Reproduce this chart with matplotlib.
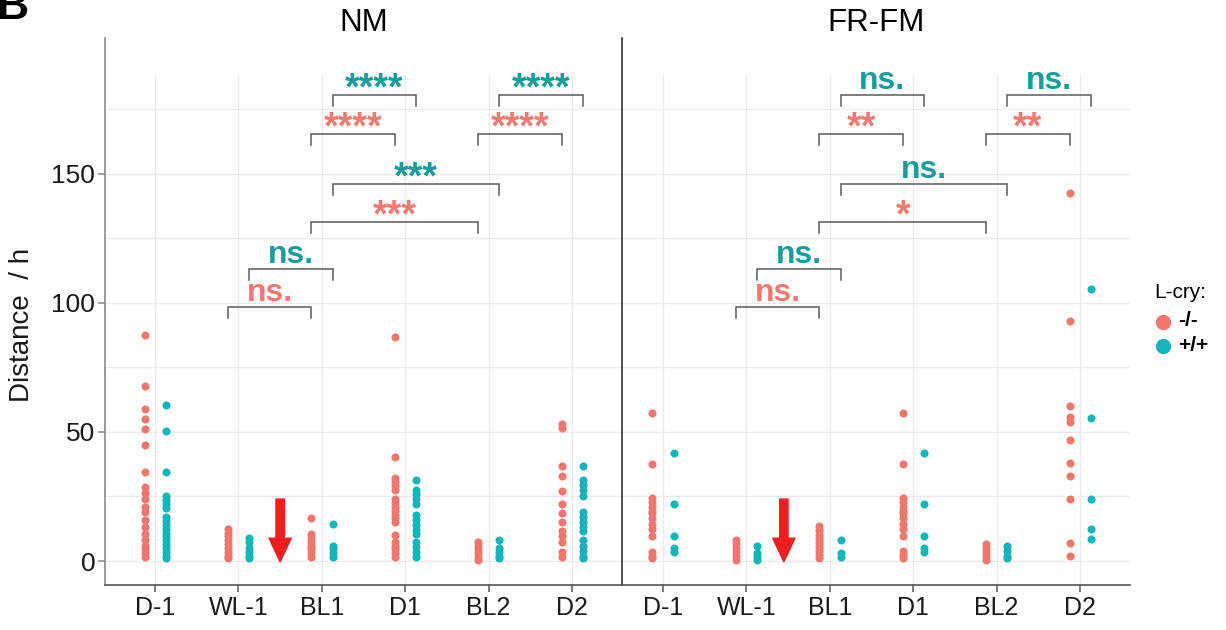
import matplotlib
matplotlib.use('Agg')
import matplotlib.pyplot as plt
from matplotlib.lines import Line2D

plt.rcParams['font.family'] = ['Liberation Sans', 'DejaVu Sans']

# ---------------- data ----------------
categories = ['D-1', 'WL-1', 'BL1', 'D1', 'BL2', 'D2']
panels = ['NM', 'FR-FM']
genotypes = ['-/-', '+/+']

# NM panel, L-cry -/-
nm_ko_d_1 = [87.5, 68, 59, 55, 51, 45, 34.5, 28.5, 26.5, 24, 21, 19, 16, 13, 10.5, 8, 6, 4.5, 3, 1.5]
nm_ko_wl_1 = [12.5, 11, 9.5, 8, 6.5, 5, 3.5, 2, 1]
nm_ko_bl1 = [16.5, 10.5, 9, 7.5, 6, 4.5, 3, 1.5]
nm_ko_d1 = [87, 40.5, 32, 30.5, 29, 27.5, 24, 22.5, 21, 19.5, 18, 16.5, 15, 10, 7.5, 6, 4.5, 3, 1.5]
nm_ko_bl2 = [7.5, 6, 4.5, 3, 1.5, 0.5]
nm_ko_d2 = [53, 51.5, 37, 33, 27, 22, 18.5, 15, 11.5, 9.5, 7.5, 3.5, 1.5]
# NM panel, L-cry +/+
nm_wt_d_1 = [60.5, 50.5, 34.5, 25, 23.5, 22, 20.5, 17, 15.5, 14, 12.5, 11, 9.5, 8, 6.5, 5, 3.5, 2, 1]
nm_wt_wl_1 = [9, 7.5, 5, 3.5, 2, 1]
nm_wt_bl1 = [14.5, 6, 4.5, 3, 1.5]
nm_wt_d1 = [31.5, 27.5, 26, 24, 22, 18, 16, 14, 12, 10.5, 7.5, 5.5, 3.5, 1.5]
nm_wt_bl2 = [8, 5, 3.5, 2, 1]
nm_wt_d2 = [37, 31.5, 29.5, 27.5, 25, 19, 17, 15, 13, 11.5, 8, 6, 4, 2, 1]

# FR-FM panel, L-cry -/-
fr_ko_d_1 = [57.5, 37.5, 24.5, 23, 21, 19.5, 18.5, 16.5, 14.5, 12.5, 9.5, 3.5, 2, 1]
fr_ko_wl_1 = [8, 6.5, 5, 3.5, 2, 0.5]
fr_ko_bl1 = [13.5, 12, 10, 8.5, 7, 5.5, 4, 2.5, 1]
fr_ko_d1 = [57.5, 37.5, 24.5, 23, 21, 19.5, 18.5, 16.5, 14.5, 12.5, 9.5, 4, 2.5, 1]
fr_ko_bl2 = [6.5, 5, 3.5, 2, 0.5]
fr_ko_d2 = [142.5, 93, 60, 56, 54, 47, 38, 33, 24, 7, 2]
# FR-FM panel, L-cry +/+
fr_wt_d_1 = [42, 22, 9.5, 5, 3.5]
fr_wt_wl_1 = [6, 3, 1.5, 0.5]
fr_wt_bl1 = [8, 3, 1.5]
fr_wt_d1 = [42, 22, 9.5, 5, 3.5]
fr_wt_bl2 = [6, 4, 2, 1]
fr_wt_d2 = [105.5, 55.5, 24, 12.5, 8.5]

panel_data = {
    'NM': {'-/-': [nm_ko_d_1, nm_ko_wl_1, nm_ko_bl1, nm_ko_d1, nm_ko_bl2, nm_ko_d2],
           '+/+': [nm_wt_d_1, nm_wt_wl_1, nm_wt_bl1, nm_wt_d1, nm_wt_bl2, nm_wt_d2]},
    'FR-FM': {'-/-': [fr_ko_d_1, fr_ko_wl_1, fr_ko_bl1, fr_ko_d1, fr_ko_bl2, fr_ko_d2],
              '+/+': [fr_wt_d_1, fr_wt_wl_1, fr_wt_bl1, fr_wt_d1, fr_wt_bl2, fr_wt_d2]},
}

# comparisons: (group1, group2, genotype, bracket height, label)
nm_tests = [('WL-1', 'BL1', '-/-', 98.6, 'ns.'),
            ('WL-1', 'BL1', '+/+', 113.2, 'ns.'),
            ('BL1', 'BL2', '-/-', 131.5, '***'),
            ('BL1', 'BL2', '+/+', 146.1, '***'),
            ('BL1', 'D1', '-/-', 165.5, '****'),
            ('BL1', 'D1', '+/+', 180.6, '****'),
            ('BL2', 'D2', '-/-', 165.5, '****'),
            ('BL2', 'D2', '+/+', 180.6, '****')]
fr_tests = [('WL-1', 'BL1', '-/-', 98.6, 'ns.'),
            ('WL-1', 'BL1', '+/+', 113.2, 'ns.'),
            ('BL1', 'BL2', '-/-', 131.5, '*'),
            ('BL1', 'BL2', '+/+', 146.1, 'ns.'),
            ('BL1', 'D1', '-/-', 165.5, '**'),
            ('BL1', 'D1', '+/+', 180.6, 'ns.'),
            ('BL2', 'D2', '-/-', 165.5, '**'),
            ('BL2', 'D2', '+/+', 180.6, 'ns.')]
panel_tests = {'NM': nm_tests, 'FR-FM': fr_tests}
arrow_pos = {'NM': 1.5, 'FR-FM': 1.45}

# ---------------- style ----------------
point_col = {'-/-': '#F0766E', '+/+': '#13B5BA'}
text_col = {'-/-': '#EC7B73', '+/+': '#1A9C9C'}
offset = {'-/-': -0.125, '+/+': 0.13}
W, H = 1226, 630
ylim = (-9.3, 202.7)
grid_top = 188.4
grid_col = '#EBEBEB'

fig = plt.figure(figsize=(W / 100, H / 100), dpi=100)


def box(x0, x1, y0, y1):
    return [x0 / W, 1 - y1 / H, (x1 - x0) / W, (y1 - y0) / H]


axes = [fig.add_axes(box(105, 622, 38, 585)), fig.add_axes(box(622, 1130, 38, 585))]
xlims = [(-0.6, 5.6), (-0.49, 5.6)]
xpos = list(range(len(categories)))

for i, (ax, pname) in enumerate(zip(axes, panels)):
    ax.set_xlim(*xlims[i])
    ax.set_ylim(*ylim)
    ax.patch.set_alpha(0)
    # grid
    for yv in [0, 25, 50, 75, 100, 125, 150, 175]:
        ax.plot(xlims[i], [yv, yv], color=grid_col, lw=1.0, zorder=0)
    ax.vlines(xpos, ylim[0], grid_top, color=grid_col, lw=1.0, zorder=0)
    # points
    for g in genotypes:
        for k, vals in enumerate(panel_data[pname][g]):
            ax.plot([k + offset[g]] * len(vals), vals, 'o', ms=5.8, mec='none',
                    color=point_col[g], zorder=3)
    # brackets
    for g1, g2, g, yb, lab in panel_tests[pname]:
        x1 = categories.index(g1) + offset[g]
        x2 = categories.index(g2) + offset[g]
        ax.plot([x1, x1, x2, x2], [yb - 4.4, yb, yb, yb - 4.4], color='#5a5a5a',
                lw=1.1, zorder=2, solid_joinstyle='miter')
        xm = (x1 + x2) / 2
        if lab.startswith('ns'):
            ax.text(xm, yb + 2.3, lab, ha='center', va='baseline', fontsize=23,
                    fontweight='bold', color=text_col[g])
        else:
            ax.text(xm, yb - 1.8, lab, ha='center', va='baseline', fontsize=27,
                    fontweight='bold', color=text_col[g])
    # red arrow
    xa = arrow_pos[pname]
    ax.annotate('', xy=(xa, -0.3), xytext=(xa, 24),
                arrowprops=dict(arrowstyle='simple,head_length=17,head_width=16,tail_width=6',
                                mutation_scale=1, color='#F01E1E', shrinkA=0, shrinkB=0),
                zorder=4)
    # axes styling
    ax.spines['top'].set_visible(False)
    ax.spines['right'].set_visible(False)
    ax.spines['bottom'].set_color('#555555')
    ax.spines['bottom'].set_linewidth(1.2)
    ax.set_xticks(xpos)
    ax.set_xticklabels(categories, fontsize=18, color='#1a1a1a')
    ax.tick_params(axis='x', length=5, width=1.1, color='#555555', pad=3)
    if i == 0:
        ax.spines['left'].set_color('#8a8a8a')
        ax.spines['left'].set_linewidth(1.2)
        ax.set_yticks([0, 50, 100, 150])
        ax.set_yticklabels(['0', '50', '100', '150'], fontsize=19, color='#1a1a1a')
        ax.tick_params(axis='y', length=5, width=1.1, color='#8a8a8a', pad=2)
    else:
        ax.spines['left'].set_color('#333333')
        ax.spines['left'].set_linewidth(1.2)
        ax.set_yticks([])

# panel titles
fig.text((105 + 622) / 2 / W, 1 - 23 / H, panels[0], ha='center', va='center', fontsize=22.5)
fig.text((622 + 1130) / 2 / W, 1 - 23 / H, panels[1], ha='center', va='center', fontsize=22.5)

# y label
fig.text(22 / W, 1 - 325 / H, 'Distance  / h', rotation=90, ha='center', va='center',
         fontsize=20, color='#1a1a1a')

# panel letter (partly cut at the top, as in the source figure)
fig.text(-3 / W, 1 - 19 / H, 'B', ha='left', va='baseline', fontsize=32, fontweight='bold')

# legend
fig.text(1154 / W, 1 - 292 / H, 'L-cry:', ha='left', va='center', fontsize=15)
for g, yy in zip(genotypes, [322, 346]):
    fig.add_artist(Line2D([1163 / W], [1 - yy / H], marker='o', ms=11, mec='none',
                          color=point_col[g], transform=fig.transFigure))
    fig.text(1178 / W, 1 - (yy - 1) / H, g, ha='left', va='center', fontsize=15,
             fontweight='bold')

fig.savefig('out.png', dpi=100)
